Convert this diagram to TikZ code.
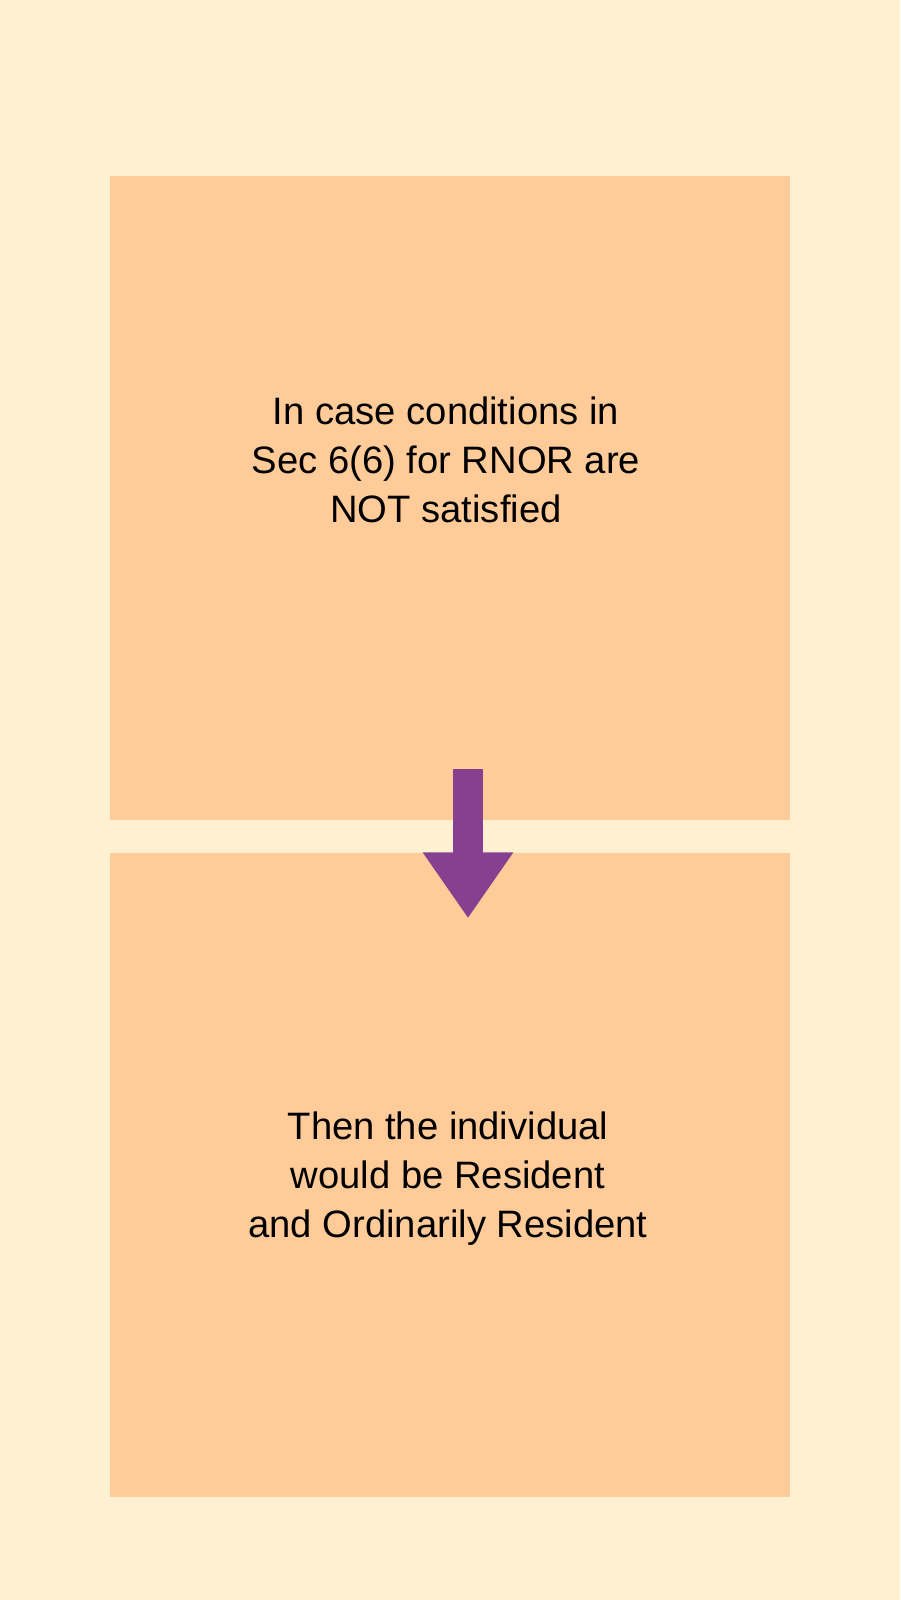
\documentclass[tikz,border=0pt]{standalone}
\usepackage{fontspec}
\setmainfont{Liberation Sans}
\usetikzlibrary{arrows.meta, calc}
\definecolor{paper}{HTML}{FFF0D1}
\definecolor{boxfill}{HTML}{FFCC99}
\definecolor{plum}{HTML}{874090}
\begin{document}
\begin{tikzpicture}[
  % one unit is one pixel of the 900x1600 sheet, y grows downwards
  x=1pt, y=-1pt, font=\fontsize{38.2}{49}\selectfont,
  bx/.style={fill=boxfill, draw=none, minimum width=680pt, minimum height=644pt, inner sep=0pt},
  txt/.style={align=center, inner sep=0pt},
  ar/.style={plum, line width=30pt, -{Triangle[length=66pt, width=86pt]}},
]
\fill[paper] (0,0) rectangle (900,1600);
\useasboundingbox (0,0) rectangle (900,1600);
% boxes
\node[bx] (cond) at (450, 497.5) {};
\node[bx] (res)  at (450, 1174.5) {};
\node[txt] (condtxt) at ($(cond.center)+(-4,-38)$) {In case conditions in\\Sec 6(6) for RNOR are\\NOT satisfied};
\node[txt] (restxt)  at ($(res.center)+(-2,4)$) {Then the individual\\would be Resident\\and Ordinarily Resident};
% arrow
\coordinate (from) at ($(cond.south)+(18,-50.5)$);
\coordinate (to)   at ($(res.north)+(18,66)$);
\draw[ar] (from) -- (to);
\end{tikzpicture}
\end{document}
